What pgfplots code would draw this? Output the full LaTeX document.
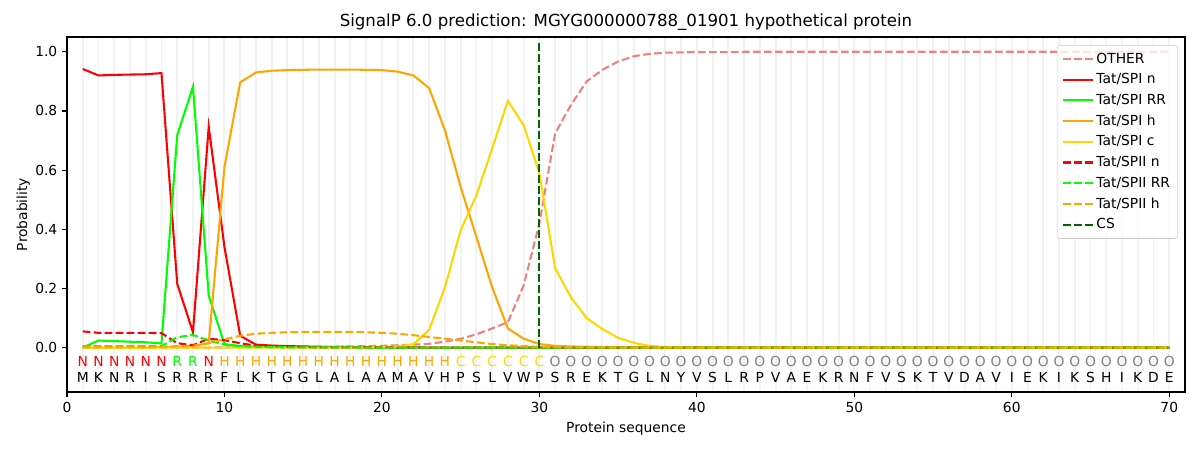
\documentclass[border=0pt]{standalone}
\usepackage{pgfplots}
\pgfplotsset{compat=1.18}
\usepackage{pgfplotstable}
\usepackage{fontspec}
\setmainfont{DejaVu Sans}
\definecolor{cother}{HTML}{F08080}
\definecolor{cred}{HTML}{FF0000}
\definecolor{clime}{HTML}{00FF00}
\definecolor{corange}{HTML}{FFA500}
\definecolor{cgold}{HTML}{FFD700}
\definecolor{cdkgreen}{HTML}{006400}
\definecolor{cgrey}{HTML}{808080}
\pgfplotstableread{
x other spin sprr sph spc siin siirr siih
1 0 0.942 0 0 0 0.055 0.005 0.003
2 0 0.920 0.024 0 0 0.050 0.005 0.003
3 0 0.922 0.022 0 0 0.050 0.005 0.003
4 0 0.923 0.020 0 0 0.050 0.005 0.003
5 0 0.924 0.018 0 0 0.050 0.005 0.003
6 0 0.928 0.014 0.002 0 0.049 0.005 0.003
7 0 0.216 0.718 0.003 0 0.015 0.035 0.005
8 0 0.052 0.882 0.005 0 0.008 0.043 0.006
9 0 0.747 0.176 0.015 0 0.030 0.024 0.015
10 0.001 0.340 0.012 0.611 0 0.025 0.010 0.028
11 0.001 0.040 0.005 0.897 0 0.015 0.005 0.040
12 0.001 0.010 0.003 0.930 0 0.006 0.003 0.047
13 0.001 0.007 0.002 0.936 0 0.004 0.002 0.050
14 0.002 0.005 0.001 0.938 0 0.003 0.001 0.052
15 0.002 0.004 0.001 0.939 0 0.002 0.001 0.053
16 0.002 0.003 0.001 0.940 0 0.001 0.001 0.053
17 0.003 0.002 0.001 0.940 0 0.001 0.001 0.053
18 0.004 0.002 0.001 0.940 0.001 0.001 0.001 0.053
19 0.005 0.001 0 0.939 0.001 0.001 0 0.052
20 0.006 0.001 0 0.938 0.002 0.001 0 0.050
21 0.008 0.001 0 0.933 0.004 0 0 0.047
22 0.010 0.001 0 0.920 0.012 0 0 0.042
23 0.013 0 0 0.877 0.060 0 0 0.036
24 0.020 0 0 0.735 0.204 0 0 0.030
25 0.030 0 0 0.543 0.397 0 0 0.024
26 0.045 0 0 0.374 0.515 0 0 0.018
27 0.065 0 0 0.204 0.673 0 0 0.012
28 0.086 0 0 0.065 0.834 0 0 0.008
29 0.210 0 0 0.030 0.752 0 0 0.005
30 0.420 0 0 0.012 0.590 0 0 0.003
31 0.724 0 0 0.006 0.269 0 0 0.002
32 0.820 0 0 0.004 0.170 0 0 0.001
33 0.900 0 0 0.003 0.100 0 0 0.001
34 0.939 0 0 0.002 0.063 0 0 0.001
35 0.967 0 0 0.001 0.033 0 0 0
36 0.985 0 0 0.001 0.016 0 0 0
37 0.993 0 0 0 0.006 0 0 0
38 0.997 0 0 0 0.002 0 0 0
39 0.998 0 0 0 0.001 0 0 0
40 0.999 0 0 0 0 0 0 0
41 0.999 0 0 0 0 0 0 0
42 0.999 0 0 0 0 0 0 0
43 1 0 0 0 0 0 0 0
44 1 0 0 0 0 0 0 0
45 1 0 0 0 0 0 0 0
46 1 0 0 0 0 0 0 0
47 1 0 0 0 0 0 0 0
48 1 0 0 0 0 0 0 0
49 1 0 0 0 0 0 0 0
50 1 0 0 0 0 0 0 0
51 1 0 0 0 0 0 0 0
52 1 0 0 0 0 0 0 0
53 1 0 0 0 0 0 0 0
54 1 0 0 0 0 0 0 0
55 1 0 0 0 0 0 0 0
56 1 0 0 0 0 0 0 0
57 1 0 0 0 0 0 0 0
58 1 0 0 0 0 0 0 0
59 1 0 0 0 0 0 0 0
60 1 0 0 0 0 0 0 0
61 1 0 0 0 0 0 0 0
62 1 0 0 0 0 0 0 0
63 1 0 0 0 0 0 0 0
64 1 0 0 0 0 0 0 0
65 1 0 0 0 0 0 0 0
66 1 0 0 0 0 0 0 0
67 1 0 0 0 0 0 0 0
68 1 0 0 0 0 0 0 0
69 1 0 0 0 0 0 0 0
70 1 0 0 0 0 0 0 0
}\data
\begin{document}
\fontsize{10}{12}\selectfont
\begin{tikzpicture}
\path[use as bounding box] (0,0) rectangle (12in,4.5in);
\begin{axis}[
  at={(0.67in,0.58in)}, anchor=south west,
  scale only axis, width=11.18in, height=3.55in,
  xmin=0, xmax=71, ymin=-0.15, ymax=1.05,
  xtick={0,10,...,70},
  ytick={0,0.2,...,1.0},
  yticklabel style={/pgf/number format/.cd, fixed, fixed zerofill, precision=1},
  /pgf/number format/assume math mode=true,
  tick align=outside, major tick length=3.5pt,
  xtick pos=bottom, ytick pos=left,
  minor xtick={1,...,70}, minor tick length=0pt,
  xminorgrids, minor grid style={black!5, line width=1.4pt},
  axis line style={line width=0.8pt},
  major tick style={line width=0.8pt, black},
  tick label style={font=\fontsize{10}{12}\selectfont},
  label style={font=\fontsize{10}{12}\selectfont},
  ylabel style={xshift=0pt, yshift=-3pt},
  title style={font=\fontsize{12}{14}\selectfont, yshift=-5pt},
  title={SignalP 6.0 prediction: MGYG000000788\_01901 hypothetical protein},
  xlabel={Protein sequence}, ylabel={Probability},
  legend cell align=left,
  legend style={at={(0.9937,0.9775)}, anchor=north east, draw=black!20, rounded corners=2pt, fill=white, fill opacity=0.8, text opacity=1, font=\fontsize{10}{12}\selectfont, row sep=2.0pt, inner sep=3.5pt},
  legend image code/.code={\draw[#1] (0cm,0cm) -- (0.75cm,0cm);},
  every axis plot/.append style={line width=1.5pt},
  clip=false,
]
\addplot[cother, dash pattern=on 5.55pt off 2.4pt] table[x=x,y=other]{\data};
\addlegendentry{OTHER}
\addplot[cred] table[x=x,y=spin]{\data};
\addlegendentry{Tat/SPI n}
\addplot[clime] table[x=x,y=sprr]{\data};
\addlegendentry{Tat/SPI RR}
\addplot[corange] table[x=x,y=sph]{\data};
\addlegendentry{Tat/SPI h}
\addplot[cgold] table[x=x,y=spc]{\data};
\addlegendentry{Tat/SPI c}
\addplot[cred, dash pattern=on 5.55pt off 2.4pt] table[x=x,y=siin]{\data};
\addlegendentry{Tat/SPII n}
\addplot[clime, dash pattern=on 5.55pt off 2.4pt] table[x=x,y=siirr]{\data};
\addlegendentry{Tat/SPII RR}
\addplot[corange, dash pattern=on 5.55pt off 2.4pt] table[x=x,y=siih]{\data};
\addlegendentry{Tat/SPII h}
\addplot[cdkgreen, dash pattern=on 5.55pt off 2.4pt] coordinates {(30,0) (30,1.04)};
\addlegendentry{CS}
\foreach [count=\i] \l in {M,K,N,R,I,S,R,R,R,F,L,K,T,G,G,L,A,L,A,A,M,A,V,H,P,S,L,V,W,P,S,R,E,K,T,G,L,N,Y,V,S,L,R,P,V,A,E,K,R,N,F,V,S,K,T,V,D,A,V,I,E,K,I,K,S,H,I,K,D,E} {
  \edef\tmp{\noexpand\node[anchor=center, inner sep=0pt, font=\noexpand\fontsize{10}{12}\noexpand\selectfont] at (axis cs:\i,-0.102) {\l};}\tmp
}
\foreach [count=\i] \l/\c in {N/cred,N/cred,N/cred,N/cred,N/cred,N/cred,R/clime,R/clime,N/cred,H/corange,H/corange,H/corange,H/corange,H/corange,H/corange,H/corange,H/corange,H/corange,H/corange,H/corange,H/corange,H/corange,H/corange,H/corange,C/cgold,C/cgold,C/cgold,C/cgold,C/cgold,C/cgold} {
  \edef\tmp{\noexpand\node[anchor=center, inner sep=0pt, text=\c, font=\noexpand\fontsize{10}{12}\noexpand\selectfont] at (axis cs:\i,-0.048) {\l};}\tmp
}
\foreach \i in {31,...,70} {
  \edef\tmp{\noexpand\node[anchor=center, inner sep=0pt, text=cgrey, font=\noexpand\fontsize{10}{12}\noexpand\selectfont] at (axis cs:\i,-0.048) {O};}\tmp
}
\end{axis}
\end{tikzpicture}
\end{document}
